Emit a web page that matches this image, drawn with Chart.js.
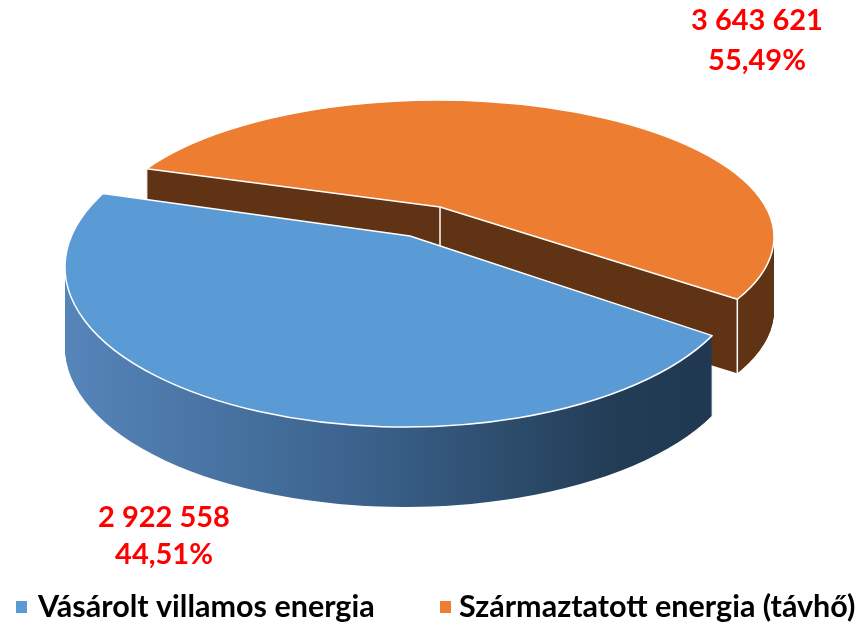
<!DOCTYPE html>
<html>
<head>
<meta charset="utf-8">
<script src="https://cdn.jsdelivr.net/npm/chart.js@4.4.0/dist/chart.umd.min.js"></script>
<style>
html,body{margin:0;padding:0;background:#ffffff;}
canvas{display:block;}
</style>
</head>
<body>
<canvas id="c" width="859" height="625"></canvas>
<script>
// ---- data ----
const categories = ['Vásárolt villamos energia', 'Származtatott energia (távhő)'];
const values = [2922558, 3643621];

// ---- styles / layout ----
const topColors = ['#5b9bd5', '#ed7d31'];
const sideStops = [
  [[0, '#5685ba'], [0.45, '#3a618a'], [0.8, '#233d57'], [1, '#1f374f']],
  [[0, '#5f3314'], [1, '#5f3314']]
];
// per-slice projection (perspective approximation): top ellipse centre/radii,
// projected pie vertex, thickness, vertical/horizontal ratio of the slice rays
const SLICE_GEOM = [
  { ex: 405, ey: 267, rx: 340, ry: 160, vx: 410, vy: 236, depth: 80, dir: 0.425 },
  { ex: 438, ey: 237, rx: 336, ry: 137, vx: 440, vy: 207, depth: 74, dir: 0.40 }
];
const WEDGE_SCALE = 1.7;
const LABEL_POS = [ { x: 164, y1: 518, y2: 555 }, { x: 757, y1: 21, y2: 61 } ];
const LEGEND_POS = [ { bx: 16, tx: 38 }, { bx: 440, tx: 459 } ];
const LEGEND_Y = 607;
const FONT_FAMILY = 'Lato, "Open Sans", sans-serif';

const total = values.reduce((a, b) => a + b, 0);
const fmtNum = v => String(v).replace(/\B(?=(\d{3})+(?!\d))/g, ' ');
const fmtPct = v => (v / total * 100).toFixed(2).replace('.', ',') + '%';

// intersection of the projected ray at angle a from the vertex with the slice ellipse
function rayHit(G, a) {
  const dx = Math.cos(a) * G.rx, dy = Math.sin(a) * G.rx * G.dir;
  const rx2 = G.rx * G.rx, ry2 = G.ry * G.ry;
  const ox = G.vx - G.ex, oy = G.vy - G.ey;
  const A = dx * dx / rx2 + dy * dy / ry2;
  const B = 2 * (ox * dx / rx2 + oy * dy / ry2);
  const C = ox * ox / rx2 + oy * oy / ry2 - 1;
  const t = (-B + Math.sqrt(B * B - 4 * A * C)) / (2 * A);
  const x = G.vx + dx * t, y = G.vy + dy * t;
  return { x, y, phi: Math.atan2((y - G.ey) / G.ry, (x - G.ex) / G.rx) };
}

const pie3d = {
  id: 'pie3d',
  beforeDatasetsDraw(chart) {
    const ctx = chart.ctx;
    const meta = chart.getDatasetMeta(0);
    const items = meta.data.map((arc, i) => {
      const p = arc.getProps(['x', 'y', 'startAngle', 'endAngle', 'outerRadius'], true);
      return { arc, i, p, mid: (p.startAngle + p.endAngle) / 2 };
    }).sort((a, b) => Math.sin(a.mid) - Math.sin(b.mid));

    for (const it of items) {
      const { arc, i, p } = it;
      const G = SLICE_GEOM[i];
      const R = p.outerRadius;
      const sx = WEDGE_SCALE * G.rx / R, sy = WEDGE_SCALE * G.rx * G.dir / R;
      const layer = (d, opts) => {
        ctx.save();
        ctx.beginPath();
        ctx.ellipse(G.ex, G.ey + d, G.rx, G.ry, 0, 0, Math.PI * 2);
        ctx.clip();
        ctx.translate(G.vx, G.vy + d);
        ctx.scale(sx, sy);
        ctx.translate(-p.x, -p.y);
        arc.options = opts;
        arc.draw(ctx);
        ctx.restore();
      };
      const gx0 = p.x + (G.ex - G.rx - G.vx) / sx;
      const gx1 = p.x + (G.ex + G.rx - G.vx) / sx;
      const g = ctx.createLinearGradient(gx0, 0, gx1, 0);
      sideStops[i].forEach(s => g.addColorStop(s[0], s[1]));
      const orig = arc.options;
      const sideOpts = Object.assign({}, orig, { backgroundColor: g, borderWidth: 0 });
      const topOpts = Object.assign({}, orig, { borderWidth: 0 });
      for (let d = G.depth; d >= 1; d--) layer(d, sideOpts);
      layer(0, topOpts);
      arc.options = orig;

      // white edges
      const c1 = rayHit(G, p.startAngle);
      const c2 = rayHit(G, p.endAngle);
      let phi2 = c2.phi;
      while (phi2 <= c1.phi) phi2 += Math.PI * 2;
      ctx.save();
      ctx.strokeStyle = '#ffffff';
      ctx.lineWidth = 1.5;
      ctx.lineJoin = 'round';
      ctx.beginPath();
      ctx.moveTo(G.vx, G.vy);
      ctx.lineTo(c1.x, c1.y);
      ctx.ellipse(G.ex, G.ey, G.rx, G.ry, 0, c1.phi, phi2);
      ctx.closePath();
      ctx.stroke();
      if (Math.sin(it.mid) < 0) {
        ctx.beginPath();
        ctx.moveTo(G.vx, G.vy);
        ctx.lineTo(G.vx, G.vy + G.depth);
        [c1, c2].forEach(c => {
          if (Math.sin(c.phi) > 0) {
            ctx.moveTo(c.x, c.y);
            ctx.lineTo(c.x, c.y + G.depth);
          }
        });
        ctx.stroke();
      }
      ctx.restore();
    }
    return false;
  },
  afterDraw(chart) {
    const ctx = chart.ctx;
    ctx.save();
    ctx.fillStyle = '#ff0000';
    ctx.textAlign = 'center';
    ctx.textBaseline = 'middle';
    ctx.font = 'bold 29px ' + FONT_FAMILY;
    values.forEach((v, i) => {
      ctx.fillText(fmtNum(v), LABEL_POS[i].x, LABEL_POS[i].y1);
      ctx.fillText(fmtPct(v), LABEL_POS[i].x, LABEL_POS[i].y2);
    });
    ctx.textAlign = 'left';
    ctx.font = 'bold 30.5px ' + FONT_FAMILY;
    categories.forEach((c, i) => {
      ctx.fillStyle = topColors[i];
      ctx.fillRect(LEGEND_POS[i].bx, LEGEND_Y - 6, 11, 12);
      ctx.fillStyle = '#000000';
      ctx.fillText(c, LEGEND_POS[i].tx, LEGEND_Y);
    });
    ctx.restore();
  }
};

new Chart(document.getElementById('c'), {
  type: 'pie',
  data: {
    labels: categories,
    datasets: [{ data: values, backgroundColor: topColors, borderWidth: 0 }]
  },
  options: {
    responsive: false,
    animation: false,
    rotation: 127.8,
    layout: { padding: 20 },
    plugins: { legend: { display: false }, tooltip: { enabled: false } }
  },
  plugins: [pie3d]
});
</script>
</body>
</html>
